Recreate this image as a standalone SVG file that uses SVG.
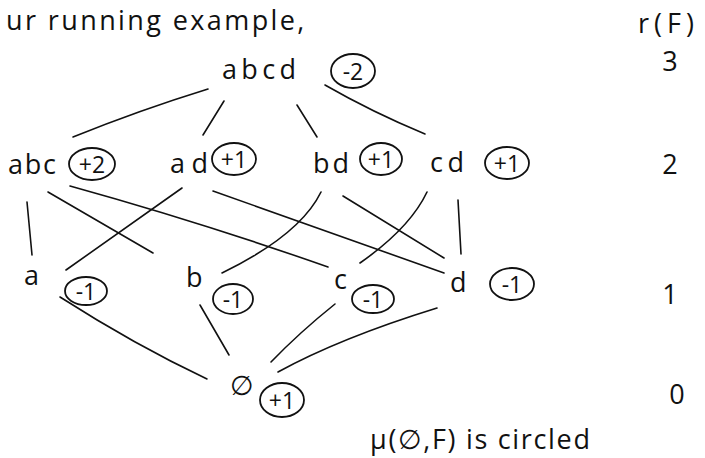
<svg xmlns="http://www.w3.org/2000/svg" width="705" height="458" viewBox="0 0 705 458">
<style>
  .t { font-family: "Open Sans", "DejaVu Sans", sans-serif; font-size: 27px; fill: #111; }
  .m { font-family: "Open Sans", "DejaVu Sans", sans-serif; font-size: 23px; fill: #111; text-anchor: middle; dominant-baseline: central; }
  .ring { fill: none; stroke: #111; stroke-width: 1.8; }
  .e { fill: none; stroke: #111; stroke-width: 1.6; stroke-linecap: round; }
</style>
<rect width="705" height="458" fill="#fff"/>

<text class="t" x="6" y="30" font-size="23" letter-spacing="2.4">ur running example,</text>
<text class="t" x="638" y="33" font-size="25" textLength="56" lengthAdjust="spacing">r(F)</text>
<text class="t" x="670" y="71" text-anchor="middle">3</text>
<text class="t" x="670" y="174" text-anchor="middle">2</text>
<text class="t" x="670" y="304" text-anchor="middle">1</text>
<text class="t" x="677" y="404" text-anchor="middle">0</text>
<text class="t" x="370" y="449" font-size="25" textLength="220" lengthAdjust="spacing">μ(∅,F) is circled</text>

<g id="connectors">
  <path class="e" d="M208,89 Q140,110 73,137"/>
  <path class="e" d="M224,101 L203,135"/>
  <path class="e" d="M297,105 L317,137"/>
  <path class="e" d="M325,85 Q372,112 425,134"/>
  <path class="e" d="M27,202 L32,255"/>
  <path class="e" d="M48,192 L153,253"/>
  <path class="e" d="M70,186 Q200,222 328,267"/>
  <path class="e" d="M182,188 Q130,225 66,270"/>
  <path class="e" d="M213,191 L444,273"/>
  <path class="e" d="M321,192 Q300,235 222,273"/>
  <path class="e" d="M343,196 L444,258"/>
  <path class="e" d="M427,192 Q410,228 360,263"/>
  <path class="e" d="M458,200 L461,254"/>
  <path class="e" d="M60,297 Q135,345 207,379"/>
  <path class="e" d="M200,305 L229,355"/>
  <path class="e" d="M335,304 Q300,332 271,362"/>
  <path class="e" d="M437,308 Q340,338 278,372"/>
</g>

<g id="n-abcd">
  <text class="t" x="222" y="79" textLength="74" lengthAdjust="spacing">abcd</text>
  <ellipse class="ring" cx="353" cy="71" rx="22" ry="17"/>
  <text class="m" x="353" y="71">-2</text>
</g>
<g id="n-abc">
  <text class="t" x="8" y="174" textLength="48" lengthAdjust="spacing">abc</text>
  <ellipse class="ring" cx="92" cy="164" rx="23" ry="16"/>
  <text class="m" x="92" y="164">+2</text>
</g>
<g id="n-ad">
  <text class="t" x="170" y="173" textLength="38" lengthAdjust="spacing">ad</text>
  <ellipse class="ring" cx="234" cy="159" rx="22" ry="16"/>
  <text class="m" x="234" y="159">+1</text>
</g>
<g id="n-bd">
  <text class="t" x="313" y="173" textLength="36" lengthAdjust="spacing">bd</text>
  <ellipse class="ring" cx="381" cy="159" rx="21" ry="16"/>
  <text class="m" x="381" y="159">+1</text>
</g>
<g id="n-cd">
  <text class="t" x="430" y="172" textLength="34" lengthAdjust="spacing">cd</text>
  <ellipse class="ring" cx="507" cy="163" rx="22" ry="16"/>
  <text class="m" x="507" y="163">+1</text>
</g>
<g id="n-a">
  <text class="t" x="24" y="285">a</text>
  <ellipse class="ring" cx="86" cy="291" rx="21" ry="14"/>
  <text class="m" x="86" y="291">-1</text>
</g>
<g id="n-b">
  <text class="t" x="186" y="287">b</text>
  <ellipse class="ring" cx="233" cy="299" rx="20" ry="15"/>
  <text class="m" x="233" y="299">-1</text>
</g>
<g id="n-c">
  <text class="t" x="334" y="289">c</text>
  <ellipse class="ring" cx="373" cy="299" rx="21" ry="14"/>
  <text class="m" x="373" y="299">-1</text>
</g>
<g id="n-d">
  <text class="t" x="450" y="292">d</text>
  <ellipse class="ring" cx="512" cy="284" rx="22" ry="16"/>
  <text class="m" x="512" y="284">-1</text>
</g>
<g id="n-empty">
  <text class="t" x="230" y="395" font-size="30" style="font-family: 'DejaVu Sans', sans-serif">∅</text>
  <ellipse class="ring" cx="282" cy="400" rx="22" ry="17"/>
  <text class="m" x="282" y="400">+1</text>
</g>
</svg>
